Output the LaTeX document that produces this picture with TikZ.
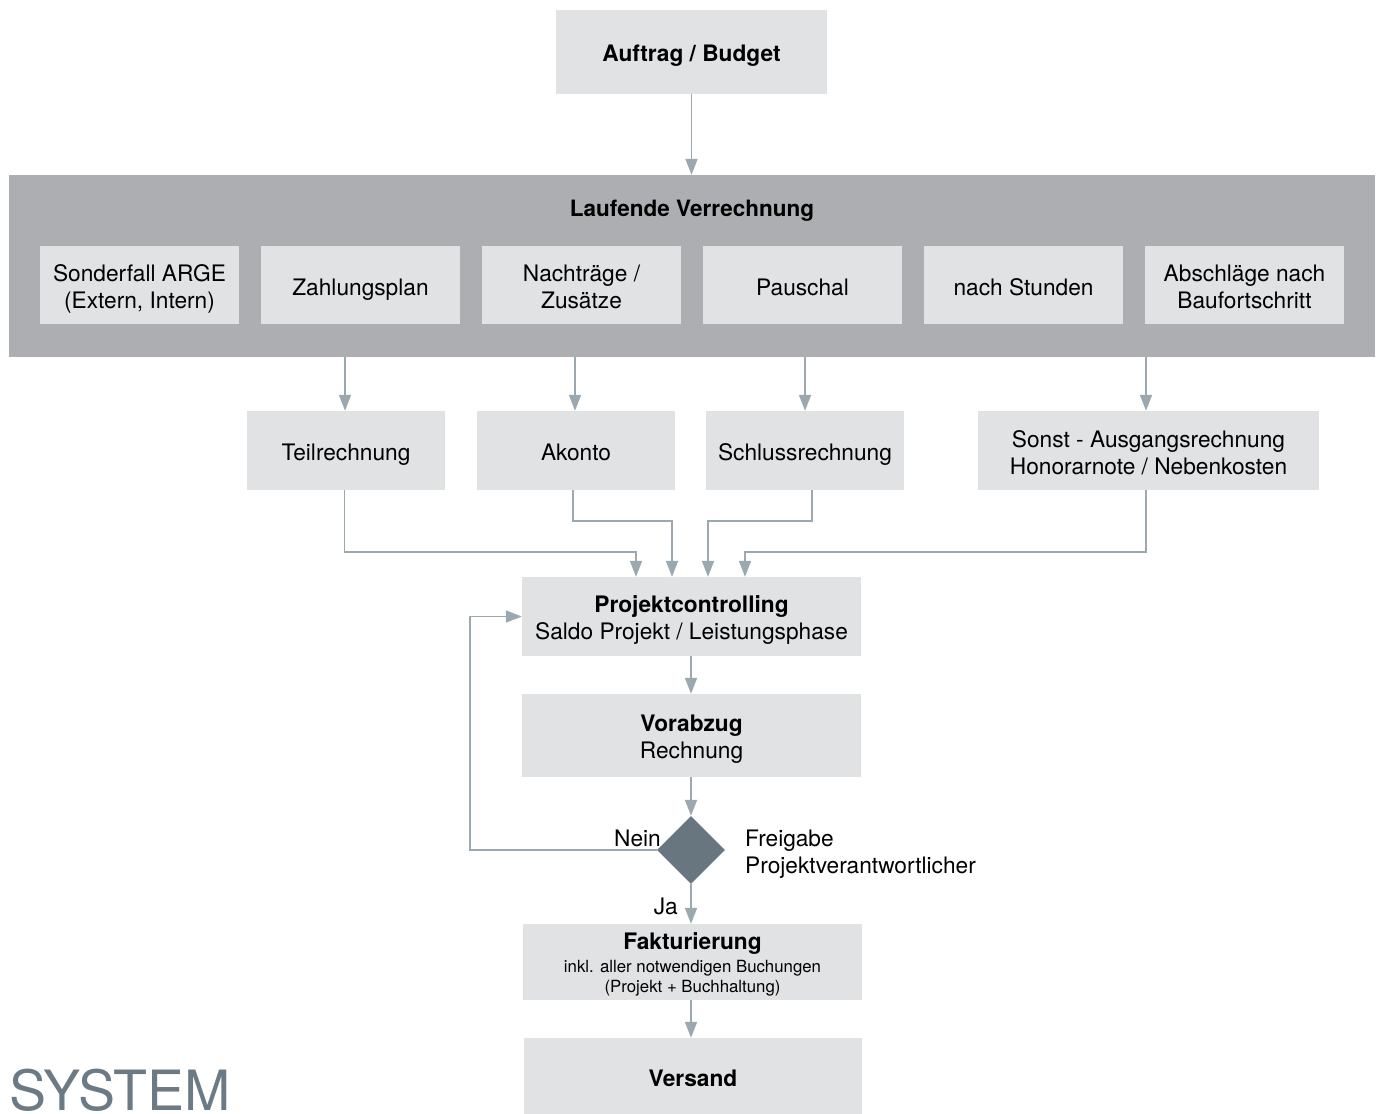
\documentclass[tikz,border=0pt]{standalone}
\usepackage{fontspec}
\setmainfont{TeX Gyre Heros}
\usetikzlibrary{shapes.geometric,arrows.meta}
\definecolor{boxgray}{HTML}{E1E2E4}
\definecolor{bandgray}{HTML}{ADAEB1}
\definecolor{linegray}{HTML}{9BA8B0}
\definecolor{diagray}{HTML}{68777F}
\definecolor{sysgray}{HTML}{6B7A84}
% box text: centred lines on a uniform 27pt grid, set a little below the box centre
\newcommand{\boxtext}[2][-5pt]{\raisebox{#1}[\height][\depth]{\begin{tabular}{@{}c@{}}#2\end{tabular}}}
\newcommand{\smalltxt}{\fontsize{16.8}{20}\selectfont}
\tikzset{
  box/.style={fill=boxgray, inner sep=0pt, anchor=center,
    font=\fontsize{22.7}{27}\selectfont},
  arr/.style={draw=linegray, line width=1.8pt,
    -{Triangle[length=16pt,width=12pt,fill=linegray]}},
  lbl/.style={inner sep=0pt, font=\fontsize{22.7}{27}\selectfont}
}
\begin{document}
\begin{tikzpicture}[x=1pt,y=-1pt]
\useasboundingbox (0,0) rectangle (1380,1113);

% top
\node[box, minimum width=271pt, minimum height=84pt] (auftrag) at (691.5,52) {\boxtext[-4pt]{\bfseries Auftrag / Budget}};

% running billing band
\node[fill=bandgray, inner sep=0pt, minimum width=1366pt, minimum height=182pt] (band) at (692,266) {};
\node[lbl, font=\fontsize{22.5}{27}\selectfont\bfseries] (bandtitle) at (692,210.5) {Laufende Verrechnung};
\node[box, minimum width=199pt, minimum height=78pt] (arge)  at (139.5,285) {\boxtext{Sonderfall ARGE\\(Extern, Intern)}};
\node[box, minimum width=199pt, minimum height=78pt] (zplan) at (360.5,285) {\boxtext{Zahlungsplan}};
\node[box, minimum width=199pt, minimum height=78pt] (nachtr) at (581.5,285) {\boxtext{Nachträge /\\Zusätze}};
\node[box, minimum width=199pt, minimum height=78pt] (pausch) at (802.5,285) {\boxtext{Pauschal}};
\node[box, minimum width=199pt, minimum height=78pt] (stunden) at (1023.5,285) {\boxtext{nach Stunden}};
\node[box, minimum width=199pt, minimum height=78pt] (abschl) at (1244.5,285) {\boxtext{Abschläge nach\\Baufortschritt}};

\draw[arr] (auftrag.south) -- (band.north -| auftrag.south);

% invoice types
\node[box, minimum width=198pt, minimum height=79pt] (teil)    at (346,450.5) {\boxtext{Teilrechnung}};
\node[box, minimum width=198pt, minimum height=79pt] (akonto)  at (576,450.5) {\boxtext{Akonto}};
\node[box, minimum width=198pt, minimum height=79pt] (schluss) at (805,450.5) {\boxtext{Schlussrechnung}};
\node[box, minimum width=341pt, minimum height=79pt] (sonst)   at (1148.5,450.5) {\boxtext{Sonst - Ausgangsrechnung\\Honorarnote / Nebenkosten}};

\draw[arr] (band.south -| 345,0) -- (teil.north -| 345,0);
\draw[arr] (band.south -| 575,0) -- (akonto.north -| 575,0);
\draw[arr] (band.south -| 805,0) -- (schluss.north -| 805,0);
\draw[arr] (band.south -| 1146,0) -- (sonst.north -| 1146,0);

% controlling chain
\node[box, minimum width=339pt, minimum height=79pt] (proj) at (691.5,616.5) {\boxtext[-4pt]{\textbf{Projektcontrolling}\\Saldo Projekt / Leistungsphase}};
\node[box, minimum width=339pt, minimum height=83pt] (vorab) at (691.5,735.5) {\boxtext[-4pt]{\textbf{Vorabzug}\\Rechnung}};
\node[diamond, fill=diagray, inner sep=0pt, minimum width=68pt, minimum height=68pt] (dia) at (691,850) {};
\node[box, minimum width=339pt, minimum height=76pt] (faktur) at (692.5,962) {\boxtext[-3.5pt]{\textbf{Fakturierung}\\[-4pt]\smalltxt inkl. aller notwendigen Buchungen\\[-7pt]\smalltxt (Projekt + Buchhaltung)}};
\node[box, minimum width=338pt, minimum height=76pt] (versand) at (693,1076) {\boxtext{\bfseries Versand}};

\draw[arr] ([xshift=-1.5pt]teil.south) -- ([xshift=-1.5pt]teil.south |- 0,552) -| ([xshift=-55.5pt]proj.north);
\draw[arr] ([xshift=-3pt]akonto.south) -- ([xshift=-3pt]akonto.south |- 0,521) -| ([xshift=-19.5pt]proj.north);
\draw[arr] ([xshift=7pt]schluss.south) -- ([xshift=7pt]schluss.south |- 0,521) -| ([xshift=16.5pt]proj.north);
\draw[arr] ([xshift=-2.5pt]sonst.south) -- ([xshift=-2.5pt]sonst.south |- 0,552) -| ([xshift=53.5pt]proj.north);

\draw[arr] (proj.south -| dia.north) -- (vorab.north -| dia.north);
\draw[arr] (vorab.south -| dia.north) -- (dia.north);
\draw[arr] (dia.south) -- (faktur.north -| dia.south);
\draw[arr] (faktur.south -| dia.south) -- (versand.north -| dia.south);
\draw[arr] (dia.west) -- (dia.west -| 470,0) |- (proj.west);

\node[lbl, anchor=east] (nein) at (661,838.5) {Nein};
\node[lbl, anchor=east] (ja) at (678,906) {Ja};
\node[lbl, anchor=west, align=left] (freigabe) at (745,854) {Freigabe\\Projektverantwortlicher};

% footer word
\node[inner sep=0pt, anchor=base west, text=sysgray, font=\fontsize{55.5}{55.5}\selectfont] (system) at (9,1110) {SYSTEM};
\end{tikzpicture}
\end{document}
